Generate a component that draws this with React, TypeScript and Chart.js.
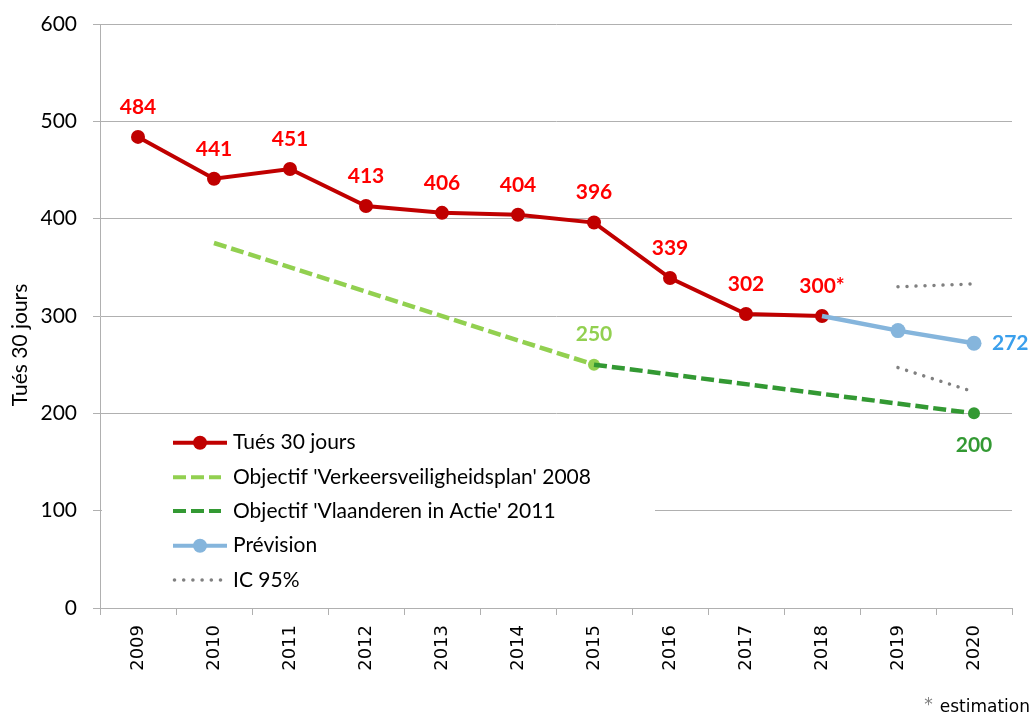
import React, { useEffect, useRef } from 'react';
import { Chart, registerables } from 'chart.js';

Chart.register(...registerables);

const years = ['2009', '2010', '2011', '2012', '2013', '2014', '2015', '2016', '2017', '2018', '2019', '2020'];
const tues = [484, 441, 451, 413, 406, 404, 396, 339, 302, 300, null, null];
const tuesLabels = ['484', '441', '451', '413', '406', '404', '396', '339', '302', '300*', '', ''];
const objectif2008 = [null, 375, null, null, null, null, 250, null, null, null, null, null];
const objectif2011 = [null, null, null, null, null, null, 250, null, null, null, null, 200];
const prevision = [null, null, null, null, null, null, null, null, null, 300, 285, 272];
const icHigh = [null, null, null, null, null, null, null, null, null, null, 330, 333];
const icLow = [null, null, null, null, null, null, null, null, null, null, 247, 222];
const legendLabels = [
  'Tués 30 jours',
  "Objectif 'Verkeersveiligheidsplan' 2008",
  "Objectif 'Vlaanderen in Actie' 2011",
  'Prévision',
  'IC 95%',
];
const yTitle = 'Tués 30 jours';
const footnote = 'estimation';

const RED = '#c00000';
const RED_LABEL = '#ff0000';
const LGREEN = '#92d050';
const DGREEN = '#339933';
const BLUE = '#85b5dc';
const BLUE_LABEL = '#3a9fec';
const GRAY = '#808080';
const GRID = '#b0b0b0';
const FONT = 'Lato';

const textPlugin = {
  id: 'customText',
  afterDatasetsDraw(chart: any) {
    const { ctx, scales } = chart;
    const x = scales.x;
    const y = scales.y;
    ctx.save();
    // data labels
    ctx.font = `bold 21px ${FONT}`;
    ctx.textAlign = 'center';
    ctx.textBaseline = 'middle';
    ctx.fillStyle = RED_LABEL;
    tues.forEach((v, i) => {
      if (v == null) return;
      ctx.fillText(tuesLabels[i], x.getPixelForValue(i), y.getPixelForValue(v) - 30);
    });
    ctx.fillStyle = LGREEN;
    ctx.fillText(String(objectif2008[6]), x.getPixelForValue(6), y.getPixelForValue(objectif2008[6] as number) - 30);
    ctx.fillStyle = DGREEN;
    ctx.fillText(String(objectif2011[11]), x.getPixelForValue(11), y.getPixelForValue(objectif2011[11] as number) + 32);
    ctx.fillStyle = BLUE_LABEL;
    ctx.textAlign = 'left';
    ctx.fillText(String(prevision[11]), x.getPixelForValue(11) + 18, y.getPixelForValue(prevision[11] as number));

    // legend box
    ctx.fillStyle = '#ffffff';
    ctx.fillRect(102, 424, 553, 176);
    const lx0 = 173, lx1 = 227, tx = 233;
    const ys = [442.7, 477.3, 511, 545.7, 580];
    ctx.lineWidth = 4;
    // item 1
    ctx.strokeStyle = RED;
    ctx.beginPath(); ctx.moveTo(lx0, ys[0]); ctx.lineTo(lx1, ys[0]); ctx.stroke();
    ctx.fillStyle = RED;
    ctx.beginPath(); ctx.arc(200, ys[0], 7, 0, Math.PI * 2); ctx.fill();
    // item 2
    ctx.setLineDash([13, 5]);
    ctx.strokeStyle = LGREEN;
    ctx.beginPath(); ctx.moveTo(lx0, ys[1]); ctx.lineTo(221, ys[1]); ctx.stroke();
    // item 3
    ctx.strokeStyle = DGREEN;
    ctx.beginPath(); ctx.moveTo(lx0, ys[2]); ctx.lineTo(221, ys[2]); ctx.stroke();
    ctx.setLineDash([]);
    // item 4
    ctx.strokeStyle = BLUE;
    ctx.beginPath(); ctx.moveTo(lx0, ys[3]); ctx.lineTo(lx1, ys[3]); ctx.stroke();
    ctx.fillStyle = BLUE;
    ctx.beginPath(); ctx.arc(200, ys[3], 7, 0, Math.PI * 2); ctx.fill();
    // item 5 dots
    ctx.fillStyle = GRAY;
    for (let k = 0; k < 6; k++) {
      ctx.beginPath(); ctx.arc(174.5 + k * 9.2, ys[4], 1.8, 0, Math.PI * 2); ctx.fill();
    }
    ctx.fillStyle = '#000000';
    ctx.font = `21px ${FONT}`;
    ctx.textAlign = 'left';
    ctx.textBaseline = 'middle';
    legendLabels.forEach((t, i) => ctx.fillText(t, tx, ys[i]));

    // y title
    ctx.save();
    ctx.translate(20, 345);
    ctx.rotate(-Math.PI / 2);
    ctx.textAlign = 'center';
    ctx.fillText(yTitle, 0, 0);
    ctx.restore();

    // footnote
    ctx.font = '17px "DejaVu Sans"';
    ctx.textAlign = 'right';
    ctx.fillStyle = '#000000';
    ctx.fillText(footnote, 1030, 708);
    const w = ctx.measureText(footnote).width;
    ctx.fillStyle = GRAY;
    ctx.fillText('*', 1030 - w - 7, 706);
    ctx.restore();
  },
};

export default function App() {
  const ref = useRef<HTMLCanvasElement | null>(null);
  useEffect(() => {
    if (!ref.current) return;
    const chart = new Chart(ref.current, {
      type: 'line',
      data: {
        labels: years,
        datasets: [
          {
            label: legendLabels[3],
            data: prevision,
            borderColor: BLUE,
            backgroundColor: BLUE,
            borderWidth: 4.5,
            pointRadius: [0, 0, 0, 0, 0, 0, 0, 0, 0, 0, 7.5, 7.5],
            pointBorderWidth: 0,
            order: 0,
          },
          {
            label: legendLabels[4],
            data: icHigh,
            borderColor: GRAY,
            borderWidth: 3.5,
            borderDash: [0.01, 9],
            borderCapStyle: 'round',
            pointRadius: 0,
            order: 1,
          },
          {
            label: legendLabels[4] + ' low',
            data: icLow,
            borderColor: GRAY,
            borderWidth: 3.5,
            borderDash: [0.01, 9],
            borderCapStyle: 'round',
            pointRadius: 0,
            order: 1,
          },
          {
            label: legendLabels[0],
            data: tues,
            borderColor: RED,
            backgroundColor: RED,
            borderWidth: 4,
            pointRadius: 7,
            pointBorderWidth: 0,
            order: 2,
          },
          {
            label: legendLabels[2],
            data: objectif2011,
            borderColor: DGREEN,
            backgroundColor: DGREEN,
            borderWidth: 4.5,
            borderDash: [13, 5],
            pointRadius: [0, 0, 0, 0, 0, 0, 0, 0, 0, 0, 0, 6],
            pointBorderWidth: 0,
            spanGaps: true,
            order: 3,
          },
          {
            label: legendLabels[1],
            data: objectif2008,
            borderColor: LGREEN,
            backgroundColor: LGREEN,
            borderWidth: 4.5,
            borderDash: [13, 5],
            pointRadius: [0, 0, 0, 0, 0, 0, 6, 0, 0, 0, 0, 0],
            pointBorderWidth: 0,
            spanGaps: true,
            order: 4,
          },
        ],
      },
      options: {
        animation: false,
        responsive: true,
        maintainAspectRatio: false,
        layout: { padding: { left: 0, right: 20, top: 24, bottom: 0 } },
        plugins: { legend: { display: false }, tooltip: { enabled: false } },
        scales: {
          x: {
            offset: true,
            grid: { offset: true, drawOnChartArea: false, tickLength: 7, color: GRID },
            border: { color: GRID },
            ticks: {
              minRotation: 90,
              maxRotation: 90,
              autoSkip: false,
              padding: 10,
              color: '#000000',
              font: { family: 'DejaVu Sans', size: 18 },
            },
            afterFit: (s: any) => { s.height = 110; },
          },
          y: {
            min: 0,
            max: 600,
            ticks: { stepSize: 100, color: '#000000', padding: 16, font: { family: FONT, size: 21, lineHeight: 0.7 } },
            grid: { color: GRID, tickLength: 7 },
            border: { color: GRID },
            afterFit: (s: any) => { s.width = 100; },
          },
        },
      },
      plugins: [textPlugin],
    } as any);
    return () => chart.destroy();
  }, []);
  return (
    <div style={{ position: 'absolute', left: 0, top: 0, width: 1032, height: 718 }}>
      <canvas ref={ref} />
    </div>
  );
}
